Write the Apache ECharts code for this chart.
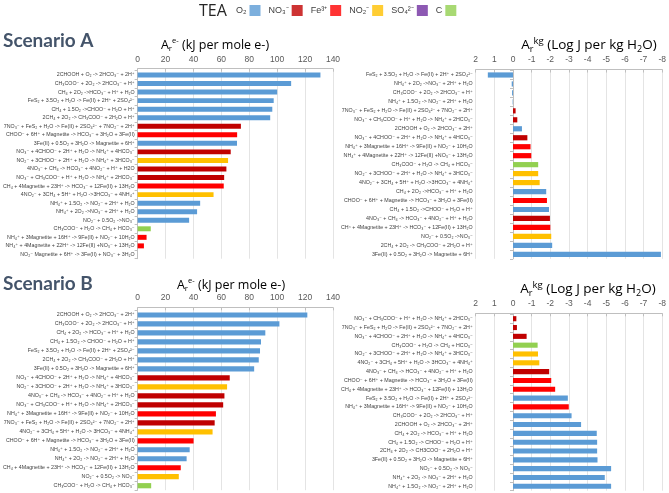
<!DOCTYPE html>
<html><head><meta charset="utf-8">
<script src="https://cdn.jsdelivr.net/npm/echarts@6/dist/echarts.min.js"></script>
<style>html,body{margin:0;padding:0;background:#fff}#c{width:669px;height:493px}</style>
</head><body><div id="c"></div>
<script>
// ---- legend / TEA ----
const teaKeys = ['O2','NO3','Fe3','NO2','SO4','C'];
const teaNames = ['O₂','NO₃⁻','Fe³⁺','NO₂⁻','SO₄²⁻','C'];
const teaColors = {O2:'#5B9BD5', NO3:'#C00000', Fe3:'#FF0000', NO2:'#FFC000', SO4:'#7030A0', C:'#92D050'};

// ---- Scenario A, Ar e- (kJ per mole e-) ----
const aLeftCats = [
 '2CHOOH + O₂ -> 2HCO₃⁻ + 2H⁺',
 'CH₃COO⁻ + 2O₂ -> 2HCO₃⁻ + H⁺',
 'CH₄ + 2O₂ ->HCO₃⁻ + H⁺ + H₂O',
 'FeS₂ + 3.5O₂ + H₂O -> Fe(II) + 2H⁺ + 2SO₄²⁻',
 'CH₄ + 1.5O₂ ->CHOO⁻ + H₂O + H⁺',
 '2CH₄ + 2O₂ -> CH₃COO⁻ + 2H₂O + H⁺',
 '7NO₃⁻ + FeS₂ + H₂O -> Fe(II) + 2SO₄²⁻ + 7NO₂⁻ + 2H⁺',
 'CHOO⁻ + 6H⁺ + Magnetite -> HCO₃⁻ + 3H₂O + 3Fe(II)',
 '3Fe(II) + 0.5O₂ + 3H₂O -> Magnetite + 6H⁺',
 'NO₃⁻ + 4CHOO⁻ + 2H⁺ + H₂O -> NH₄⁺ + 4HCO₃⁻',
 'NO₂⁻ + 3CHOO⁻ + 2H⁺ + H₂O -> NH₄⁺ + 3HCO₃⁻',
 '4NO₃⁻ + CH₄ -> HCO₃⁻ + 4NO₂⁻ + H⁺ + H2O',
 'NO₃⁻ + CH₃COO⁻ + H⁺ + H₂O -> NH₄⁺ + 2HCO₃⁻',
 'CH₄ + 4Magnetite + 23H⁺ -> HCO₃⁻ + 12Fe(II) + 13H₂O',
 '4NO₂⁻ + 3CH₄ + 5H⁺ + H₂O ->3HCO₃⁻ + 4NH₄⁺',
 'NH₄⁺ + 1.5O₂ -> NO₂⁻ + 2H⁺ + H₂O',
 'NH₄⁺ + 2O₂ ->NO₃⁻ + 2H⁺ + H₂O',
 'NO₂⁻ + 0.5O₂ ->NO₃⁻',
 'CH₃COO⁻ + H₂O -> CH₄ + HCO₃⁻',
 'NH₄⁺ + 3Magnetite + 16H⁺ -> 9Fe(II) + NO₂⁻ + 10H₂O',
 'NH₄⁺ + 4Magnetite + 22H⁺ -> 12Fe(II) +NO₃⁻ + 13H₂O',
 'NO₂⁻ Magnetite + 6H⁺ -> 3Fe(II) + NO₃⁻ + 3H₂O'
];
const aLeftVals = [131, 110, 100, 97.5, 96.5, 95, 74, 71.3, 71.2, 66.7, 64.8, 63.6, 62, 61.7, 54.4, 44.8, 42.6, 36.9, 9.4, 6.4, 4.5, 0];
const aLeftTea = ['O2','O2','O2','O2','O2','O2','NO3','Fe3','O2','NO3','NO2','NO3','NO3','Fe3','NO2','O2','O2','O2','C','Fe3','Fe3','Fe3'];

// ---- Scenario A, Ar kg (Log J per kg H2O) ----
const aRightCats = [
 'FeS₂ + 3.5O₂ + H₂O -> Fe(II) + 2H⁺ + 2SO₄²⁻',
 'NH₄⁺ + 2O₂ ->NO₃⁻ + 2H⁺ + H₂O',
 'CH₃COO⁻ + 2O₂ -> 2HCO₃⁻ + H⁺',
 'NH₄⁺ + 1.5O₂ -> NO₂⁻ + 2H⁺ + H₂O',
 '7NO₃⁻ + FeS₂ + H₂O -> Fe(II) + 2SO₄²⁻ + 7NO₂⁻ + 2H⁺',
 'NO₃⁻ + CH₃COO⁻ + H⁺ + H₂O -> NH₄⁺ + 2HCO₃⁻',
 '2CHOOH + O₂ -> 2HCO₃⁻ + 2H⁺',
 'NO₃⁻ + 4CHOO⁻ + 2H⁺ + H₂O -> NH₄⁺ + 4HCO₃⁻',
 'NH₄⁺ + 3Magnetite + 16H⁺ -> 9Fe(II) + NO₂⁻ + 10H₂O',
 'NH₄⁺ + 4Magnetite + 22H⁺ -> 12Fe(II) +NO₃⁻ + 13H₂O',
 'CH₃COO⁻ + H₂O -> CH₄ + HCO₃⁻',
 'NO₂⁻ + 3CHOO⁻ + 2H⁺ + H₂O -> NH₄⁺ + 3HCO₃⁻',
 '4NO₂⁻ + 3CH₄ + 5H⁺ + H₂O ->3HCO₃⁻ + 4NH₄⁺',
 'CH₄ + 2O₂ ->HCO₃⁻ + H⁺ + H₂O',
 'CHOO⁻ + 6H⁺ + Magnetite -> HCO₃⁻ + 3H₂O + 3Fe(II)',
 'CH₄ + 1.5O₂ ->CHOO⁻ + H₂O + H⁺',
 '4NO₃⁻ + CH₄ -> HCO₃⁻ + 4NO₂⁻ + H⁺ + H₂O',
 'CH⁴ + 4Magnetite + 23H⁺ -> HCO₃⁻ + 12Fe(II) + 13H₂O',
 'NO₂⁻ + 0.5O₂ ->NO₃⁻',
 '2CH₄ + 2O₂ -> CH₃COO⁻ + 2H₂O + H⁺',
 '3Fe(II) + 0.5O₂ + 3H₂O -> Magnetite + 6H⁺'
];
const aRightVals = [1.35, 0.07, 0.05, 0.02, -0.14, -0.23, -0.48, -0.77, -0.94, -0.98, -1.35, -1.35, -1.43, -1.78, -1.82, -1.93, -1.98, -2.0, -2.05, -2.1, -7.93];
const aRightTea = ['O2','O2','O2','O2','NO3','NO3','O2','NO3','Fe3','Fe3','C','NO2','NO2','O2','Fe3','O2','NO3','Fe3','NO2','O2','O2'];

// ---- Scenario B, Ar e- ----
const bLeftCats = [
 '2CHOOH + O₂ -> 2HCO₃⁻ + 2H⁺',
 'CH₃COO⁻ + 2O₂ -> 2HCO₃⁻ + H⁺',
 'CH₄ + 2O₂ -> HCO₃⁻ + H⁺ + H₂O',
 'CH₄ + 1.5O₂ -> CHOO⁻ + H₂O + H⁺',
 'FeS₂ + 3.5O₂ + H₂O -> Fe(II) + 2H⁺ + 2SO₄²⁻',
 '2CH₄ + 2O₂ -> CH₃COO⁻ + 2H₂O + H⁺',
 '3Fe(II) + 0.5O₂ + 3H₂O -> Magnetite + 6H⁺',
 'NO₃⁻ + 4CHOO⁻ + 2H⁺ + H₂O -> NH₄⁺ + 4HCO₃⁻',
 'NO₂⁻ + 3CHOO⁻ + 2H⁺ + H₂O -> NH₄⁺ + 3HCO₃⁻',
 '4NO₃⁻ + CH₄ -> HCO₃⁻ + 4NO₂⁻ + H⁺ + H₂O',
 'NO₃⁻ + CH₃COO⁻ + H⁺ + H₂O -> NH₄⁺ + 2HCO₃⁻',
 'NH₄⁺ + 3Magnetite + 16H⁺ -> 9Fe(II) + NO₂⁻ + 10H₂O',
 '7NO₃⁻ + FeS₂ + H₂O -> Fe(II) + 2SO₄²⁻ + 7NO₂⁻ + 2H⁺',
 '4NO₂⁻ + 3CH₄ + 5H⁺ + H₂O -> 3HCO₃⁻ + 4NH₄⁺',
 'CHOO⁻ + 6H⁺ + Magnetite -> HCO₃⁻ + 3H₂O + 3Fe(II)',
 'NH₄⁺ + 1.5O₂ -> NO₂⁻ + 2H⁺ + H₂O',
 'NH₄⁺ + 2O₂ -> NO₂⁻ + 2H⁺ + H₂O',
 'CH₄ + 4Magnetite + 23H⁺ -> HCO₃⁻ + 12Fe(II) + 13H₂O',
 'NO₂⁻ + 0.5O₂ -> NO₃⁻',
 'CH₃COO⁻ + H₂O -> CH₄ + HCO₃⁻'
];
const bLeftVals = [121.6, 101.6, 91.5, 88.4, 87.7, 86.8, 83.5, 66, 64.1, 62.2, 61.3, 56.1, 55.2, 53.7, 40.1, 37.3, 35.1, 30.9, 29.5, 9.7];
const bLeftTea = ['O2','O2','O2','O2','O2','O2','O2','NO3','NO2','NO3','NO3','Fe3','NO3','NO2','Fe3','O2','O2','Fe3','NO2','C'];

// ---- Scenario B, Ar kg ----
const bRightCats = [
 'NO₃⁻ + CH₃COO⁻ + H⁺ + H₂O -> NH₄⁺ + 2HCO₃⁻',
 '7NO₃⁻ + FeS₂ + H₂O -> Fe(II) + 2SO₄²⁻ + 7NO₂⁻ + 2H⁺',
 'NO₃⁻ + 4CHOO⁻ + 2H⁺ + H₂O -> NH₄⁺ + 4HCO₃⁻',
 'CH₃COO⁻ + H₂O -> CH₄ + HCO₃⁻',
 'NO₂⁻ + 3CHOO⁻ + 2H⁺ + H₂O -> NH₄⁺ + 3HCO₃⁻',
 '4NO₂⁻ + 3CH₄ + 5H⁺ + H₂O -> 3HCO₃⁻ + 4NH₄⁺',
 '4NO₃⁻ + CH₄ -> HCO₃⁻ + 4NO₂⁻ + H⁺ + H₂O',
 'CHOO⁻ + 6H⁺ + Magnetite -> HCO₃⁻ + 3H₂O + 3Fe(II)',
 'CH₄ + 4Magnetite + 23H⁺ -> HCO₃⁻ + 12Fe(II) + 13H₂O',
 'FeS₂ + 3.5O₂ + H₂O -> Fe(II) + 2H⁺ + 2SO₄²⁻',
 'NH₄⁺ + 3Magnetite + 16H⁺ -> 9Fe(II) + NO₂⁻ + 10H₂O',
 'CH₃COO⁻ + 2O₂ -> 2HCO₃⁻ + H⁺',
 '2CHOOH + O₂ -> 2HCO₃⁻ + 2H⁺',
 'CH₄ + 2O₂ -> HCO₃⁻ + H⁺ + H₂O',
 'CH₄ + 1.5O₂ -> CHOO⁻ + H₂O + H⁺',
 '2CH₄ + 2O₂ -> CH3COO⁻ + 2H₂O + H⁺',
 '3Fe(II) + 0.5O₂ + 3H₂O -> Magnetite + 6H⁺',
 'NO₂⁻ + 0.5O₂ -> NO₃⁻',
 'NH₄⁺ + 2O₂ -> NO₃⁻ + 2H⁺ + H₂O',
 'NH₄⁺ + 1.5O₂ -> NO₂⁻ + 2H⁺ + H₂O'
];
const bRightVals = [-0.18, -0.21, -0.73, -1.32, -1.34, -1.41, -1.94, -2.05, -2.26, -2.94, -2.99, -3.14, -3.65, -4.49, -4.51, -4.51, -4.53, -5.26, -4.92, -5.26];
const bRightTea = ['NO3','NO3','NO3','C','NO2','NO2','NO3','Fe3','Fe3','O2','Fe3','O2','O2','O2','O2','O2','O2','O2','O2','O2'];

// ---- axis ticks ----
const leftMin = 0, leftMax = 140, leftStep = 20;
const rightMin = -8, rightMax = 2, rightStep = 1;

const AXC = '#bfbfbf', GRIDC = '#e4e4e4', TXT = '#404040';
const catFont = 'Liberation Sans, DejaVu Sans, sans-serif';

function barData(vals, tea){ return vals.map((v,i)=>({value:v, itemStyle:{color:teaColors[tea[i]]}})); }

function valAxis(grid, min, max, step, inverse, offset){
  return {gridIndex:grid, type:'value', position:'top', min:min, max:max, interval:step, inverse:inverse, offset:offset,
    axisLine:{show:true, onZero:false, lineStyle:{color:AXC}},
    axisTick:{show:true, inside:true, length:3, lineStyle:{color:AXC}},
    axisLabel:{fontSize:8.5, color:'#595959', margin:5, fontFamily:'Liberation Sans, sans-serif'},
    splitLine:{show:true, lineStyle:{color:GRIDC}}};
}
function catAxis(grid, cats, labels, line){
  return {gridIndex:grid, type:'category', data:cats, inverse:true, position:'left',
    axisLine:{show:line, onZero:!labels, lineStyle:{color:AXC}},
    axisTick:{show:line, length:3, lineStyle:{color:AXC}},
    axisLabel:{show:labels, interval:0, fontSize:5.3, color:TXT, margin:3, fontFamily:catFont},
    splitLine:{show:false}};
}

const titleRich = {
  a:{fontSize:12.5, color:'#595959', fontFamily:'Open Sans, sans-serif', lineHeight:16},
  s:{fontSize:8, color:'#595959', fontFamily:'Open Sans, sans-serif', verticalAlign:'bottom', lineHeight:16},
  p:{fontSize:7.5, color:'#595959', fontFamily:'Open Sans, sans-serif', verticalAlign:'top', lineHeight:16}
};
const titleRich2 = {
  a:{fontSize:13.5, color:'#595959', fontFamily:'Open Sans, sans-serif', lineHeight:17},
  s:{fontSize:9, color:'#595959', fontFamily:'Open Sans, sans-serif', verticalAlign:'bottom', lineHeight:17},
  p:{fontSize:9.5, color:'#595959', fontFamily:'Open Sans, sans-serif', verticalAlign:'top', lineHeight:17}
};
function axisTitle1(x,y){ return {type:'text', x:x, y:y, style:{text:'{a|A}{s|r}{p|e-}{a| (kJ per mole e-)}', rich:titleRich, align:'center', verticalAlign:'middle'}}; }
function axisTitle2(x,y){ return {type:'text', x:x, y:y, style:{text:'{a|A}{s|r}{p|kg}{a| (Log J per kg H}{s|2}{a|O)}', rich:titleRich2, align:'center', verticalAlign:'middle'}}; }

const chart = echarts.init(document.getElementById('c'), null, {renderer:'canvas'});
const legendSeries = teaKeys.map((k,i)=>({type:'scatter', name:teaNames[i], data:[], xAxisIndex:0, yAxisIndex:0, itemStyle:{color:teaColors[k]}}));

chart.setOption({
  animation:false,
  backgroundColor:'#ffffff',
  legend:{data:teaNames, left:236, top:5, icon:'rect', align:'right', itemWidth:11, itemHeight:11, itemGap:8, padding:0,
    textStyle:{fontSize:9, color:TXT, fontFamily:'Liberation Sans, sans-serif', padding:[0,-2,0,0]}},
  graphic:[
    {type:'text', x:199, y:3, style:{text:'TEA', fontSize:16, fill:'#262626', fontFamily:'Open Sans, sans-serif'}},
    {type:'text', x:3, y:31, style:{text:'Scenario A', fontSize:19, fontWeight:'bold', fill:'#44546A', fontFamily:'Lato, sans-serif'}},
    {type:'text', x:3, y:274, style:{text:'Scenario B', fontSize:19, fontWeight:'bold', fill:'#44546A', fontFamily:'Lato, sans-serif'}},
    axisTitle1(215,45), axisTitle2(589,45), axisTitle1(231,285), axisTitle2(588,289)
  ],
  grid:[
    {left:135, top:70.7, width:198, height:188},
    {left:475.7, top:70.5, width:187, height:188.3},
    {left:135, top:310.5, width:198, height:179.7},
    {left:475.7, top:314.3, width:187, height:176.4}
  ],
  xAxis:[
    valAxis(0, leftMin, leftMax, leftStep, false, 2),
    valAxis(1, rightMin, rightMax, rightStep, true, 1),
    valAxis(2, leftMin, leftMax, leftStep, false, 3),
    valAxis(3, rightMin, rightMax, rightStep, true, 1)
  ],
  yAxis:[
    catAxis(0, aLeftCats, true, true),
    catAxis(1, aRightCats, true, false),
    catAxis(1, aRightCats, false, true),
    catAxis(2, bLeftCats, true, true),
    catAxis(3, bRightCats, true, false),
    catAxis(3, bRightCats, false, true)
  ],
  series:[
    {type:'bar', xAxisIndex:0, yAxisIndex:0, barWidth:'58%', data:barData(aLeftVals, aLeftTea)},
    {type:'bar', xAxisIndex:1, yAxisIndex:1, barWidth:'58%', data:barData(aRightVals, aRightTea)},
    {type:'bar', xAxisIndex:2, yAxisIndex:3, barWidth:'58%', data:barData(bLeftVals, bLeftTea)},
    {type:'bar', xAxisIndex:3, yAxisIndex:4, barWidth:'58%', data:barData(bRightVals, bRightTea)}
  ].concat(legendSeries)
});
</script>
</body></html>
